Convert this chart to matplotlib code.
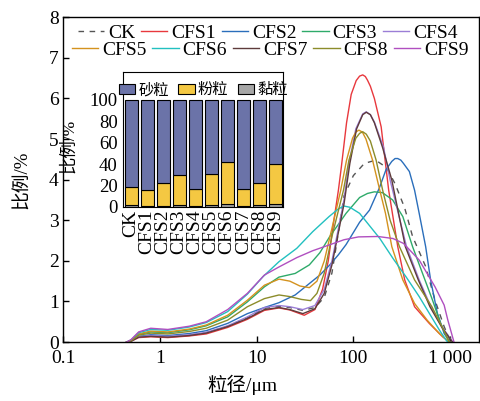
import matplotlib
matplotlib.use('Agg')
import matplotlib.pyplot as plt
from matplotlib import font_manager
from matplotlib.ticker import FixedLocator, FixedFormatter, NullLocator

installed = {f.name for f in font_manager.fontManager.ttflist}
serif = next((f for f in ['Liberation Serif', 'Times New Roman', 'Nimbus Roman', 'DejaVu Serif'] if f in installed), 'DejaVu Serif')
plt.rcParams['font.family'] = [serif, 'Noto Sans CJK SC']
plt.rcParams['mathtext.fontset'] = 'stix'

# particle size distribution curves (um, %)
ck_x = [0.45, 0.5, 0.6, 0.8, 1.2, 2, 3, 5, 8, 12, 17, 22, 30, 40, 50, 60, 70, 80, 100, 130, 170, 220, 270, 340, 410, 560, 700, 870, 1000, 1050]
ck_y = [0, 0.03, 0.13, 0.15, 0.13, 0.17, 0.23, 0.39, 0.6, 0.83, 0.88, 0.85, 0.78, 0.85, 1.1, 1.7, 2.7, 3.6, 4.1, 4.4, 4.48, 4.3, 3.9, 3.3, 2.6, 1.86, 1.03, 0.38, 0.05, 0]

cfs1_x = [0.45, 0.5, 0.6, 0.8, 1.2, 2, 3, 5, 8, 12, 17, 22, 31, 40, 48, 55, 62, 70, 75, 85, 95, 107, 116, 125, 133, 140, 150, 165, 194, 213, 232, 288, 340, 430, 610, 840, 985]
cfs1_y = [0, 0.02, 0.11, 0.13, 0.11, 0.15, 0.2, 0.36, 0.56, 0.78, 0.84, 0.79, 0.66, 0.8, 1.3, 2.0, 2.9, 3.74, 4.3, 5.4, 6.1, 6.44, 6.55, 6.58, 6.54, 6.45, 6.3, 6.0, 5.3, 4.48, 3.74, 2.35, 1.53, 0.87, 0.46, 0.13, 0]

cfs2_x = [0.45, 0.5, 0.6, 0.8, 1.2, 2, 3, 5, 8, 12, 17, 25, 35, 45, 57, 70, 84, 116, 147, 186, 218, 250, 270, 288, 310, 330, 380, 430, 480, 560, 630, 740, 870, 1000]
cfs2_y = [0, 0.02, 0.14, 0.18, 0.16, 0.21, 0.28, 0.46, 0.70, 0.85, 0.97, 1.16, 1.44, 1.65, 1.9, 2.15, 2.4, 2.95, 3.25, 3.8, 4.25, 4.45, 4.52, 4.52, 4.48, 4.4, 4.2, 3.74, 3.17, 2.35, 1.53, 0.71, 0.21, 0]

cfs3_x = [0.45, 0.5, 0.6, 0.8, 1.2, 2, 3, 5, 8, 12, 17, 25, 35, 45, 57, 70, 84, 116, 140, 165, 200, 255, 325, 410, 520, 660, 800, 960, 1000]
cfs3_y = [0, 0.04, 0.19, 0.25, 0.23, 0.3, 0.4, 0.62, 0.99, 1.36, 1.6, 1.69, 1.9, 2.2, 2.6, 2.9, 3.17, 3.56, 3.66, 3.70, 3.68, 3.50, 3.09, 2.35, 1.69, 1.03, 0.46, 0.05, 0]

cfs4_x = [0.45, 0.5, 0.6, 0.8, 1.2, 2, 3, 5, 8, 12, 17, 22, 30, 40, 50, 60, 70, 80, 90, 106, 125, 136, 150, 165, 205, 240, 355, 480, 635, 830, 1070]
cfs4_y = [0, 0.03, 0.13, 0.16, 0.14, 0.18, 0.24, 0.4, 0.62, 0.85, 0.9, 0.87, 0.8, 0.9, 1.3, 2.0, 2.8, 3.5, 4.4, 5.25, 5.62, 5.67, 5.6, 5.42, 4.8, 3.99, 2.35, 1.53, 0.87, 0.37, 0]

cfs5_x = [0.45, 0.5, 0.6, 0.8, 1.2, 2, 3, 5, 8, 12, 17, 22, 28, 35, 42, 50, 60, 74, 85, 98, 106, 114, 124, 135, 158, 185, 215, 250, 325, 430, 580, 775, 960, 1000]
cfs5_y = [0, 0.04, 0.2, 0.27, 0.25, 0.32, 0.42, 0.66, 1.03, 1.40, 1.55, 1.5, 1.38, 1.34, 1.5, 2.0, 2.8, 3.74, 4.48, 5.02, 5.17, 5.22, 5.17, 5.0, 4.48, 3.8, 3.17, 2.35, 1.53, 0.95, 0.54, 0.21, 0.02, 0]

cfs6_x = [0.45, 0.5, 0.6, 0.8, 1.2, 2, 3, 5, 8, 11.6, 17, 26, 38, 56, 70, 80, 92, 116, 188, 257, 350, 480, 610, 775, 910, 950]
cfs6_y = [0, 0.05, 0.23, 0.31, 0.29, 0.37, 0.48, 0.75, 1.18, 1.61, 1.98, 2.31, 2.72, 3.09, 3.28, 3.35, 3.32, 3.17, 2.55, 2.06, 1.61, 1.12, 0.71, 0.30, 0.05, 0]

cfs7_x = [0.45, 0.5, 0.6, 0.8, 1.2, 2, 3, 5, 8, 12, 17, 22, 30, 40, 50, 60, 70, 80, 92, 108, 125, 136, 150, 165, 200, 250, 345, 470, 620, 820, 1060]
cfs7_y = [0, 0.02, 0.12, 0.14, 0.12, 0.16, 0.22, 0.38, 0.58, 0.8, 0.85, 0.8, 0.7, 0.82, 1.2, 1.9, 2.7, 3.4, 4.4, 5.25, 5.6, 5.66, 5.6, 5.4, 4.8, 3.99, 2.35, 1.53, 0.87, 0.37, 0]

cfs8_x = [0.45, 0.5, 0.6, 0.8, 1.2, 2, 3, 5, 8, 12, 17, 22, 29, 36, 42, 50, 60, 79, 90, 106, 116, 125, 136, 150, 172, 201, 240, 300, 430, 650, 830, 985]
cfs8_y = [0, 0.03, 0.17, 0.22, 0.2, 0.26, 0.34, 0.54, 0.87, 1.07, 1.16, 1.12, 1.05, 1.02, 1.2, 1.7, 2.6, 3.74, 4.48, 5.02, 5.14, 5.18, 5.12, 4.95, 4.48, 3.74, 3.0, 2.35, 1.53, 0.87, 0.37, 0]

cfs9_x = [0.45, 0.5, 0.6, 0.8, 1.2, 2, 3, 5, 8, 12, 17, 26, 38, 56, 80, 113, 180, 257, 330, 480, 700, 870, 950, 1100]
cfs9_y = [0, 0.06, 0.25, 0.34, 0.31, 0.39, 0.5, 0.80, 1.20, 1.65, 1.85, 2.08, 2.25, 2.39, 2.52, 2.59, 2.6, 2.55, 2.43, 2.02, 1.36, 0.91, 0.54, 0]

names = ['CK', 'CFS1', 'CFS2', 'CFS3', 'CFS4', 'CFS5', 'CFS6', 'CFS7', 'CFS8', 'CFS9']
colors = ['#555555', '#e8383d', '#2a6ebb', '#2eaa6a', '#9b7ed6',
          '#d4921e', '#22c0c0', '#5e3b3b', '#8c8c2a', '#b04fc0']

# inset: texture composition (%)
clay = [1.5, 1.0, 1.0, 2.0, 1.0, 2.0, 3.0, 1.0, 1.5, 3.0]
silt = [16.8, 15.1, 21.0, 28.0, 16.0, 28.4, 39.2, 15.5, 21.2, 37.4]
sand = [100 - c - s for c, s in zip(clay, silt)]

x_ticks = [0.1, 1, 10, 100, 1000]
x_tick_labels = ['0.1', '1', '10', '100', '1 000']

fig = plt.figure(figsize=(4.81, 4.01), dpi=100)
ax = fig.add_axes([0.132, 0.147, 0.864, 0.810])

curves = [(ck_x, ck_y), (cfs1_x, cfs1_y), (cfs2_x, cfs2_y), (cfs3_x, cfs3_y), (cfs4_x, cfs4_y),
          (cfs5_x, cfs5_y), (cfs6_x, cfs6_y), (cfs7_x, cfs7_y), (cfs8_x, cfs8_y), (cfs9_x, cfs9_y)]
handles = []
for (xs, ys), name, c in zip(curves, names, colors):
    if name == 'CK':
        h, = ax.plot(xs, ys, color=c, lw=1.0, ls=(0, (4, 4)), label=name)
    else:
        h, = ax.plot(xs, ys, color=c, lw=1.0, label=name)
    handles.append(h)

ax.set_xscale('log')
ax.set_xlim(0.1, 2000)
ax.set_ylim(0, 8)
ax.xaxis.set_major_locator(FixedLocator(x_ticks))
ax.xaxis.set_major_formatter(FixedFormatter(x_tick_labels))
ax.xaxis.set_minor_locator(NullLocator())
ax.set_yticks(range(0, 9))
ax.tick_params(direction='in', labelsize=14, length=4, width=1)
ax.tick_params(axis='x', pad=6)
for s in ax.spines.values():
    s.set_linewidth(1.0)
ax.set_xlabel('粒径/μm', fontsize=14)
ax.xaxis.set_label_coords((242 - 63.5) / 415.5, -0.1)
ax.set_ylabel('比例/%', fontsize=13.5, labelpad=13)

# two legend rows, each laid out on its own
leg_kw = dict(ncol=5, loc='center left', frameon=False, fontsize=14, handlelength=1.35,
              handletextpad=0.2, columnspacing=0.3, borderpad=0, borderaxespad=0)
row1 = ax.legend(handles[:5], names[:5], bbox_to_anchor=(78 / 481, 1 - 33 / 401),
                 bbox_transform=fig.transFigure, **leg_kw)
ax.add_artist(row1)
ax.legend(handles[5:], names[5:], bbox_to_anchor=(72 / 481, 1 - 50 / 401),
          bbox_transform=fig.transFigure, **leg_kw)

# inset stacked bars
ins = fig.add_axes([0.256, 0.484, 0.333, 0.337])
pos = range(len(names))
ins.bar(pos, clay, width=0.8, color='#a6a6a6', edgecolor='black', lw=0.8, label='黏粒')
ins.bar(pos, silt, width=0.8, bottom=clay, color='#f4c842', edgecolor='black', lw=0.8, label='粉粒')
ins.bar(pos, sand, width=0.8, bottom=[c + s for c, s in zip(clay, silt)], color='#6b73a8',
        edgecolor='black', lw=0.8, label='砂粒')
ins.set_xlim(-0.5, 9.5)
ins.set_ylim(0, 126)
ins.set_yticks([0, 20, 40, 60, 80, 100])
ins.set_xticks(list(pos))
ins.set_xticklabels(names, rotation=90)
ins.tick_params(direction='in', length=0, labelsize=13.5, pad=4)
ins.tick_params(axis='x', labelsize=14, pad=2)
ins.set_ylabel('比例/%', fontsize=12.5)
ins.yaxis.set_label_coords(-0.29, 0.45)
ih, il = ins.get_legend_handles_labels()
ins.legend(ih[::-1], il[::-1], ncol=3, loc='upper center', bbox_to_anchor=(0.5, 1.02), frameon=False,
           fontsize=11, handlelength=1.1, handleheight=0.6, handletextpad=0.2, columnspacing=0.6)

fig.savefig('out.png', dpi=100)
